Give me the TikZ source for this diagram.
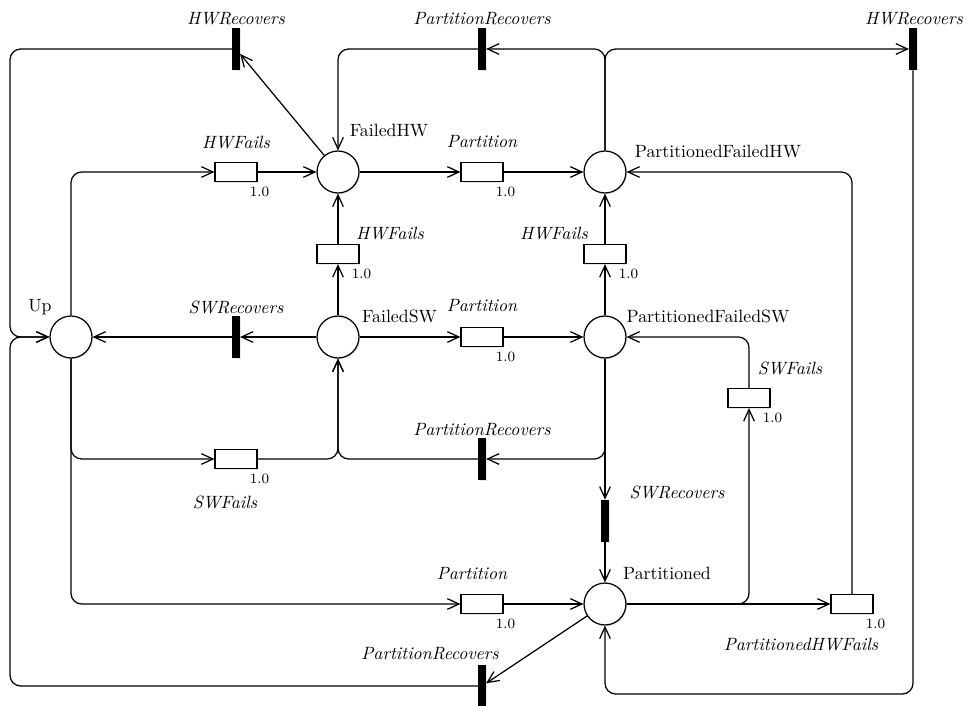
\documentclass[tikz,border=0pt]{standalone}
\usetikzlibrary{arrows.meta,shadows,calc}

\tikzset{
  shade/.style={drop shadow={opacity=0.18, shadow xshift=0.7pt, shadow yshift=-0.7pt}},
  place/.style={circle, draw, line width=0.7pt, fill=white, inner sep=0pt,
                minimum size=23.6pt, shade},
  timed/.style={rectangle, draw, line width=0.7pt, fill=white, inner sep=0pt,
                minimum width=23.6pt, minimum height=10.7pt, shade},
  immed/.style={rectangle, fill=black, inner sep=0pt,
                minimum width=4.2pt, minimum height=23.6pt, shade},
  arc/.style={line width=0.7pt, rounded corners=6pt,
              -{Straight Barb[length=6.5pt,width=6pt]}},
  pname/.style={inner sep=0pt, font=\normalsize},
  tname/.style={inner sep=0pt, font=\itshape},
  wt/.style={inner sep=0pt, font=\footnotesize},
}

\begin{document}
\begin{tikzpicture}[x=0.5625pt, y=-0.5625pt]
\useasboundingbox (0,0) rectangle (971,706);

% places
\node[place] (Up)   at (71,337)  {};
\node[place] (FHW)  at (338,172) {};
\node[place] (PFHW) at (605,172) {};
\node[place] (FSW)  at (338,337) {};
\node[place] (PFSW) at (605,337) {};
\node[place] (Part) at (605,604) {};

\node[pname] at (40,307)    {Up};
\node[pname] at (389,131)   {FailedHW};
\node[pname] at (718,152)   {PartitionedFailedHW};
\node[pname] at (399.5,316) {FailedSW};
\node[pname] at (708,316)   {PartitionedFailedSW};
\node[pname] at (667,573)   {Partitioned};

% timed transitions
\node[timed] (tHWF1) at (236,172) {};
\node[timed] (tP1)   at (482,172) {};
\node[timed] (tHWF2) at (338,254) {};
\node[timed] (tHWF3) at (605,254) {};
\node[timed] (tP2)   at (482,337) {};
\node[timed] (tSWF1) at (236,459) {};
\node[timed] (tSWF2) at (749,398) {};
\node[timed] (tP3)   at (482,604) {};
\node[timed] (tPHWF) at (852,604) {};

% immediate transitions
\node[immed] (iHWR1) at (236,49)  {};
\node[immed] (iPR1)  at (482,49)  {};
\node[immed] (iHWR2) at (913,49)  {};
\node[immed] (iSWR1) at (236,337) {};
\node[immed] (iPR2)  at (482,459) {};
\node[immed] (iSWR2) at (605,521) {};
\node[immed] (iPR3)  at (482,686) {};

% transition names
\node[tname] at (236,19)  {HWRecovers};
\node[tname] at (482,19)  {PartitionRecovers};
\node[tname] at (914,19)  {HWRecovers};
\node[tname] at (236,143) {HWFails};
\node[tname] at (482,142) {Partition};
\node[tname] at (390,234) {HWFails};
\node[tname] at (554,234) {HWFails};
\node[tname] at (236,307) {SWRecovers};
\node[tname] at (482,306) {Partition};
\node[tname] at (482,430) {PartitionRecovers};
\node[tname] at (225,502) {SWFails};
\node[tname] at (677,492) {SWRecovers};
\node[tname] at (790,368) {SWFails};
\node[tname] at (472,574) {Partition};
\node[tname] at (430,654) {PartitionRecovers};
\node[tname] at (801,645) {PartitionedHWFails};

% rates
\foreach \t in {tHWF1,tP1,tHWF2,tHWF3,tP2,tSWF1,tSWF2,tP3,tPHWF}
  \node[wt] at ($(\t)+(23.5,19.5)$) {1.0};

% routing points of the outer loops
\coordinate (loopL) at (10,337);
\coordinate (loopR) at (913,694);

% arcs
\draw[arc] (FHW) -- (iHWR1);
\draw[arc] (iHWR1.west) -| (loopL) -- (Up.west);
\draw[arc] (iPR3.west) -| (loopL) -- (Up.west);

\draw[arc] (Up.north) |- (tHWF1.west);
\draw[arc] (tHWF1) -- (FHW);
\draw[arc] (FHW) -- (tP1);
\draw[arc] (tP1) -- (PFHW);

\draw[arc] (PFHW.north) |- (iPR1.east);
\draw[arc] (iPR1.west) -| (FHW.north);
\draw[arc] (PFHW.north) |- (iHWR2.west);
\draw[arc] (iHWR2.south) -- (loopR) -| (Part.south);
\draw[arc] (tPHWF.north) |- (PFHW.east);

\draw[arc] (FSW) -- (tHWF2);
\draw[arc] (tHWF2) -- (FHW);
\draw[arc] (PFSW) -- (tHWF3);
\draw[arc] (tHWF3) -- (PFHW);

\draw[arc] (FSW) -- (iSWR1);
\draw[arc] (iSWR1) -- (Up);
\draw[arc] (FSW) -- (tP2);
\draw[arc] (tP2) -- (PFSW);

\draw[arc] (Up.south) |- (tSWF1.west);
\draw[arc] (tSWF1.east) -| (FSW.south);
\draw[arc] (PFSW.south) |- (iPR2.east);
\draw[arc] (iPR2.west) -| (FSW.south);

\draw[arc] (PFSW) -- (iSWR2);
\draw[arc] (iSWR2) -- (Part);

\draw[arc] (Up.south) |- (tP3.west);
\draw[arc] (tP3) -- (Part);

\draw[arc] (Part.east) -| (tSWF2.south);
\draw[arc] (tSWF2.north) |- (PFSW.east);
\draw[arc] (Part) -- (tPHWF);
\draw[arc] (Part) -- (iPR3);
\end{tikzpicture}
\end{document}
